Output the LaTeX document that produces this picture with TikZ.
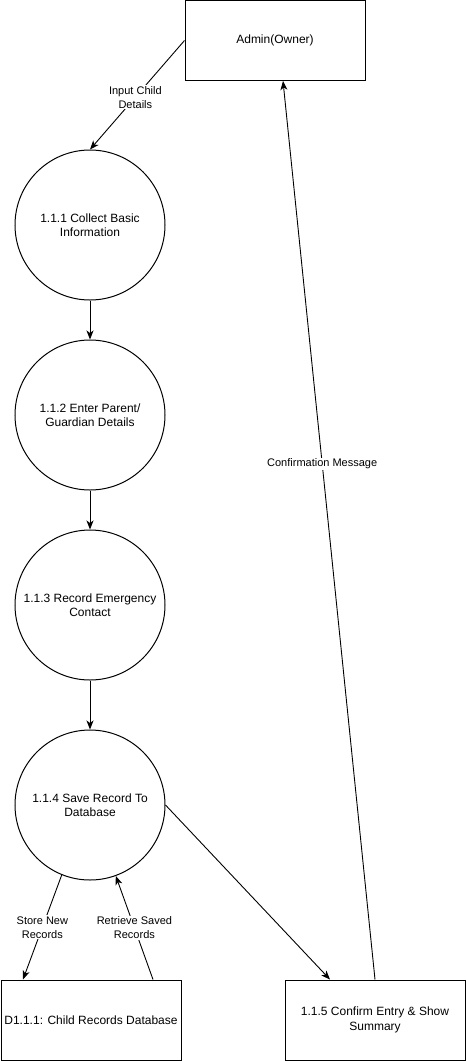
\documentclass[tikz,border=0pt]{standalone}
\usepackage{fontspec}
\setmainfont{Liberation Sans}
\usetikzlibrary{arrows.meta}
\begin{document}
\begin{tikzpicture}[x=1pt,y=-1pt,
  every node/.style={inner sep=0pt},
  proc/.style={draw,line width=1pt,circle,minimum size=150pt,align=center,font=\fontsize{12}{14.5}\selectfont},
  ent/.style={draw,line width=1pt,rectangle,minimum width=180pt,minimum height=80pt,align=center,font=\fontsize{12}{14.5}\selectfont},
  flow/.style={line width=0.9pt,-{Stealth[length=9pt,width=7pt,inset=2.5pt]}},
  lbl/.style={fill=white,align=center,font=\fontsize{11}{14}\selectfont,inner sep=1pt}]
\useasboundingbox (0,0) rectangle (466,1061);
\node[ent] (admin) at (275,40.5) {Admin(Owner)};
\node[proc] (c1) at (90,225) {1.1.1 Collect Basic\\Information};
\node[proc] (c2) at (90,415) {1.1.2 Enter Parent/\\Guardian Details};
\node[proc] (c3) at (90,605) {1.1.3 Record Emergency\\Contact};
\node[proc] (c4) at (90,805) {1.1.4 Save Record To\\Database};
\node[ent] (d1) at (91,1020) {D1.1.1: Child Records Database};
\node[ent] (c5) at (375,1020) {1.1.5 Confirm Entry \& Show\\Summary};
\draw[flow] (admin.west) -- node[lbl,pos=0.52] {Input Child\\Details} (c1.north);
\draw[flow] (c1) -- (c2);
\draw[flow] (c2) -- (c3);
\draw[flow] (c3) -- (c4);
\draw[flow] (c4.248) -- node[lbl,pos=0.5] {Store New\\Records} ([xshift=-68pt]d1.north);
\draw[flow] ([xshift=62pt]d1.north) -- node[lbl,pos=0.5] {Retrieve Saved\\Records} (c4.290);
\draw[flow] (c4.east) -- ([xshift=-45pt]c5.north);
\draw[flow] (c5.north) -- node[lbl,pos=0.574] {Confirmation Message} ([xshift=8pt]admin.south);
\end{tikzpicture}
\end{document}
